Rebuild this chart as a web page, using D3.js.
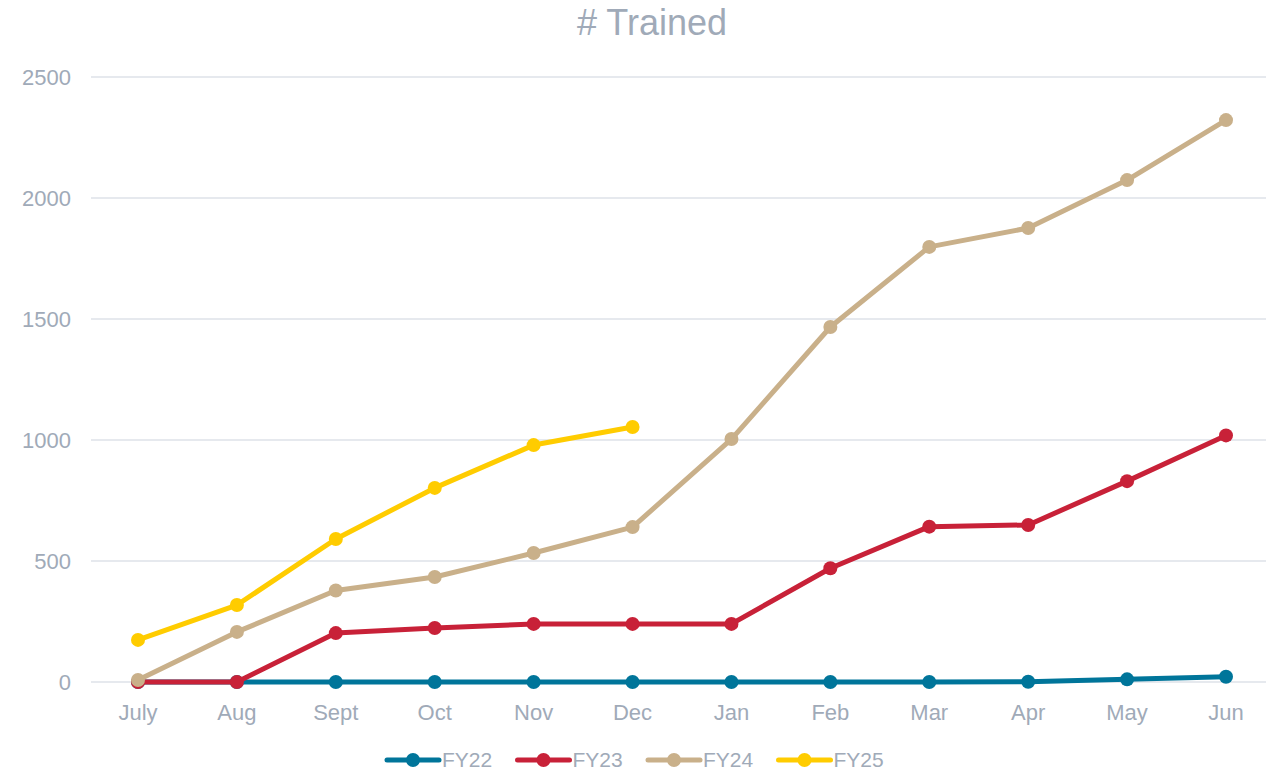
<!DOCTYPE html>
<html>
<head>
<meta charset="utf-8">
<script src="https://cdn.jsdelivr.net/npm/d3@7"></script>
<style>
  body { margin: 0; background: #fff; }
</style>
</head>
<body>
<div id="chart"></div>
<script>
const months = ["July", "Aug", "Sept", "Oct", "Nov", "Dec", "Jan", "Feb", "Mar", "Apr", "May", "Jun"];
const fy22 = [0, 0, 0, 0, 0, 0, 0, 0, 0, 1, 11, 22];
const fy23 = [0, 0, 202, 223, 240, 240, 240, 470, 642, 649, 830, 1019];
const fy24 = [8, 207, 378, 434, 533, 640, 1004, 1467, 1798, 1876, 2074, 2322];
const fy25 = [174, 318, 591, 802, 979, 1054];
const yTicks = [0, 500, 1000, 1500, 2000, 2500];

const series = [
  { name: "FY22", values: fy22, color: "#00759a" },
  { name: "FY23", values: fy23, color: "#c82138" },
  { name: "FY24", values: fy24, color: "#c9b08a" },
  { name: "FY25", values: fy25, color: "#ffcc00" },
];

const W = 1266, H = 773;
const TEXT = "#a0aab8";
const FONT = "'Liberation Sans', Arial, sans-serif";

const svg = d3.select("#chart").append("svg")
  .attr("width", W).attr("height", H)
  .style("font-family", FONT);

const x = d3.scalePoint().domain(months).range([138, 1226]);
const y = d3.scaleLinear().domain([0, 2500]).range([682, 77]);

// title
svg.append("text")
  .attr("x", 652).attr("y", 35)
  .attr("text-anchor", "middle")
  .style("font-size", "36px")
  .style("fill", TEXT)
  .text("# Trained");

// grid + y labels
const yAxis = svg.append("g");
yAxis.selectAll("line").data(yTicks).join("line")
  .attr("x1", 91).attr("x2", W)
  .attr("y1", d => y(d)).attr("y2", d => y(d))
  .attr("stroke", "#e6e9ee").attr("stroke-width", 2);
yAxis.selectAll("text").data(yTicks).join("text")
  .attr("x", 71).attr("y", d => y(d))
  .attr("dy", "0.35em")
  .attr("text-anchor", "end")
  .style("font-size", "22px")
  .style("fill", TEXT)
  .text(d => d);

// x labels
svg.append("g").selectAll("text").data(months).join("text")
  .attr("x", d => x(d)).attr("y", 720)
  .attr("text-anchor", "middle")
  .style("font-size", "22px")
  .style("fill", TEXT)
  .text(d => d);

const line = d3.line()
  .x((d, i) => x(months[i]))
  .y(d => y(d));

series.forEach(s => {
  const g = svg.append("g");
  g.append("path")
    .datum(s.values)
    .attr("d", line)
    .attr("fill", "none")
    .attr("stroke", s.color)
    .attr("stroke-width", 5)
    .attr("stroke-linejoin", "round");
  g.selectAll("circle").data(s.values).join("circle")
    .attr("cx", (d, i) => x(months[i]))
    .attr("cy", d => y(d))
    .attr("r", 7)
    .attr("fill", s.color);
});

// legend
const legend = svg.append("g").attr("transform", "translate(387, 760)");
const item = legend.selectAll("g").data(series).join("g")
  .attr("transform", (d, i) => `translate(${i * 130.5}, 0)`);
item.append("line")
  .attr("x1", 0).attr("x2", 52)
  .attr("stroke", d => d.color)
  .attr("stroke-width", 5)
  .attr("stroke-linecap", "round");
item.append("circle")
  .attr("cx", 26).attr("r", 7)
  .attr("fill", d => d.color);
item.append("text")
  .attr("x", 55).attr("dy", "0.35em")
  .style("font-size", "21px")
  .style("fill", TEXT)
  .text(d => d.name);
</script>
</body>
</html>
